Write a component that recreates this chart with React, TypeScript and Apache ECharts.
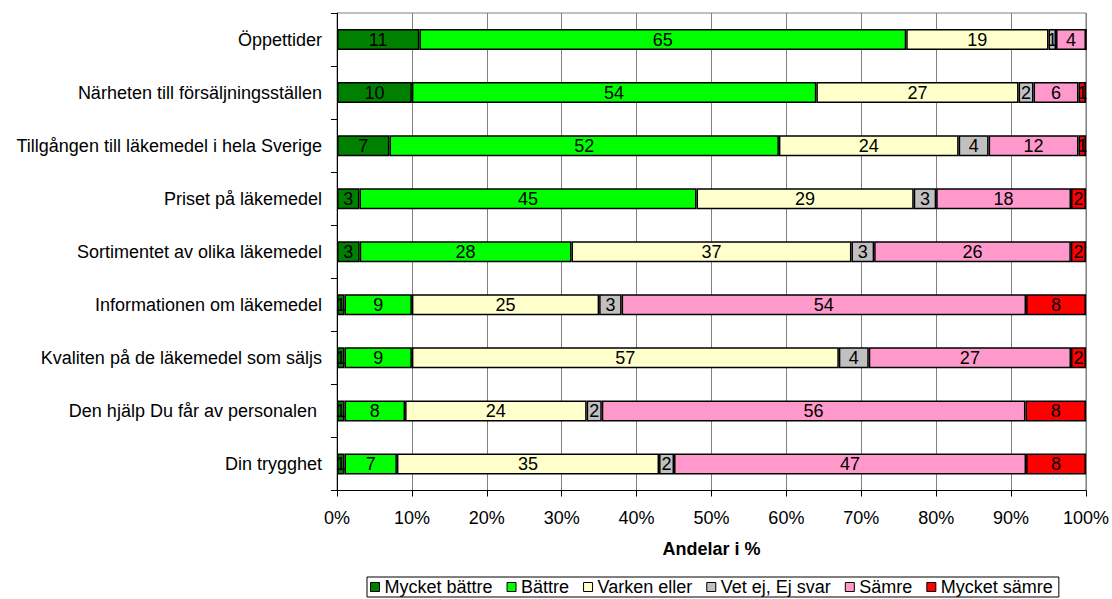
import React, { useEffect, useRef } from "react";
import * as echarts from "echarts";

const categories = [
  "Öppettider",
  "Närheten till försäljningsställen",
  "Tillgången till läkemedel i hela Sverige",
  "Priset på läkemedel",
  "Sortimentet av olika läkemedel",
  "Informationen om läkemedel",
  "Kvaliten på de läkemedel som säljs",
  "Den hjälp Du får av personalen ",
  "Din trygghet",
];

const seriesNames = [
  "Mycket bättre",
  "Bättre",
  "Varken eller",
  "Vet ej, Ej svar",
  "Sämre",
  "Mycket sämre",
];

const mycketBattre = [11, 10, 7, 3, 3, 1, 1, 1, 1];
const battre = [65, 54, 52, 45, 28, 9, 9, 8, 7];
const varkenEller = [19, 27, 24, 29, 37, 25, 57, 24, 35];
const vetEj = [1, 2, 4, 3, 3, 3, 4, 2, 2];
const samre = [4, 6, 12, 18, 26, 54, 27, 56, 47];
const mycketSamre = [0, 1, 1, 2, 2, 8, 2, 8, 8];

const xTicks = [0, 10, 20, 30, 40, 50, 60, 70, 80, 90, 100];

const colors = ["#008000", "#00FF00", "#FFFFCC", "#C0C0C0", "#FF99CC", "#FF0000"];

const FONT = "'Liberation Sans', Arial, sans-serif";

export default function App() {
  const ref = useRef<HTMLDivElement>(null);

  useEffect(() => {
    if (!ref.current) return;
    const chart = echarts.init(ref.current, null, { renderer: "svg" });
    const raw = [mycketBattre, battre, varkenEller, vetEj, samre, mycketSamre];
    const totals = categories.map((_, i) => raw.reduce((s, arr) => s + arr[i], 0));

    const series = raw.map((arr, k) => ({
      name: seriesNames[k],
      type: "bar",
      stack: "total",
      barWidth: 21,
      data: arr.map((v, i) => ({ value: (v / totals[i]) * 100, raw: v })),
      itemStyle: { color: colors[k], borderColor: "#000", borderWidth: 1.5 },
      label: {
        show: true,
        position: "inside",
        color: "#000",
        fontFamily: FONT,
        fontSize: 18,
        formatter: (p: any) => (p.data.raw ? String(p.data.raw) : ""),
      },
      emphasis: { disabled: true },
    }));

    chart.setOption({
      animation: false,
      textStyle: { fontFamily: FONT },
      grid: {
        left: 337,
        right: 25,
        top: 13,
        height: 477.5,
        show: true,
        borderColor: "#808080",
        borderWidth: 1,
        containLabel: false,
      },
      legend: {
        data: seriesNames,
        left: 367,
        top: 577,
        orient: "horizontal",
        itemWidth: 9,
        itemHeight: 9,
        itemGap: 14,
        padding: [1, 6, 1, 3],
        borderColor: "#000",
        borderWidth: 1,
        icon: "rect",
        selectedMode: false,
        itemStyle: { borderColor: "#000", borderWidth: 1 },
        textStyle: { fontFamily: FONT, fontSize: 18, color: "#000" },
      },
      xAxis: {
        type: "value",
        min: xTicks[0],
        max: xTicks[xTicks.length - 1],
        interval: 10,
        name: "Andelar i %",
        nameLocation: "middle",
        nameGap: 49,
        nameTextStyle: { fontFamily: FONT, fontSize: 18, fontWeight: "bold", color: "#000" },
        axisLine: { show: true, lineStyle: { color: "#000", width: 1 } },
        axisTick: { show: true, length: 6, lineStyle: { color: "#000" } },
        axisLabel: {
          formatter: "{value}%",
          margin: 18,
          fontFamily: FONT,
          fontSize: 18,
          color: "#000",
        },
        splitLine: { show: true, lineStyle: { color: "#808080", width: 1 } },
      },
      yAxis: {
        type: "category",
        data: categories,
        inverse: true,
        axisLine: { show: true, lineStyle: { color: "#000", width: 1 } },
        axisTick: { show: true, length: 6, lineStyle: { color: "#000" } },
        axisLabel: { margin: 15, fontFamily: FONT, fontSize: 18, color: "#000" },
        splitLine: { show: false },
      },
      series,
    });
    return () => chart.dispose();
  }, []);

  return (
    <div
      ref={ref}
      style={{ position: "fixed", left: 0, top: 0, width: 1112, height: 599, background: "#fff" }}
    />
  );
}
